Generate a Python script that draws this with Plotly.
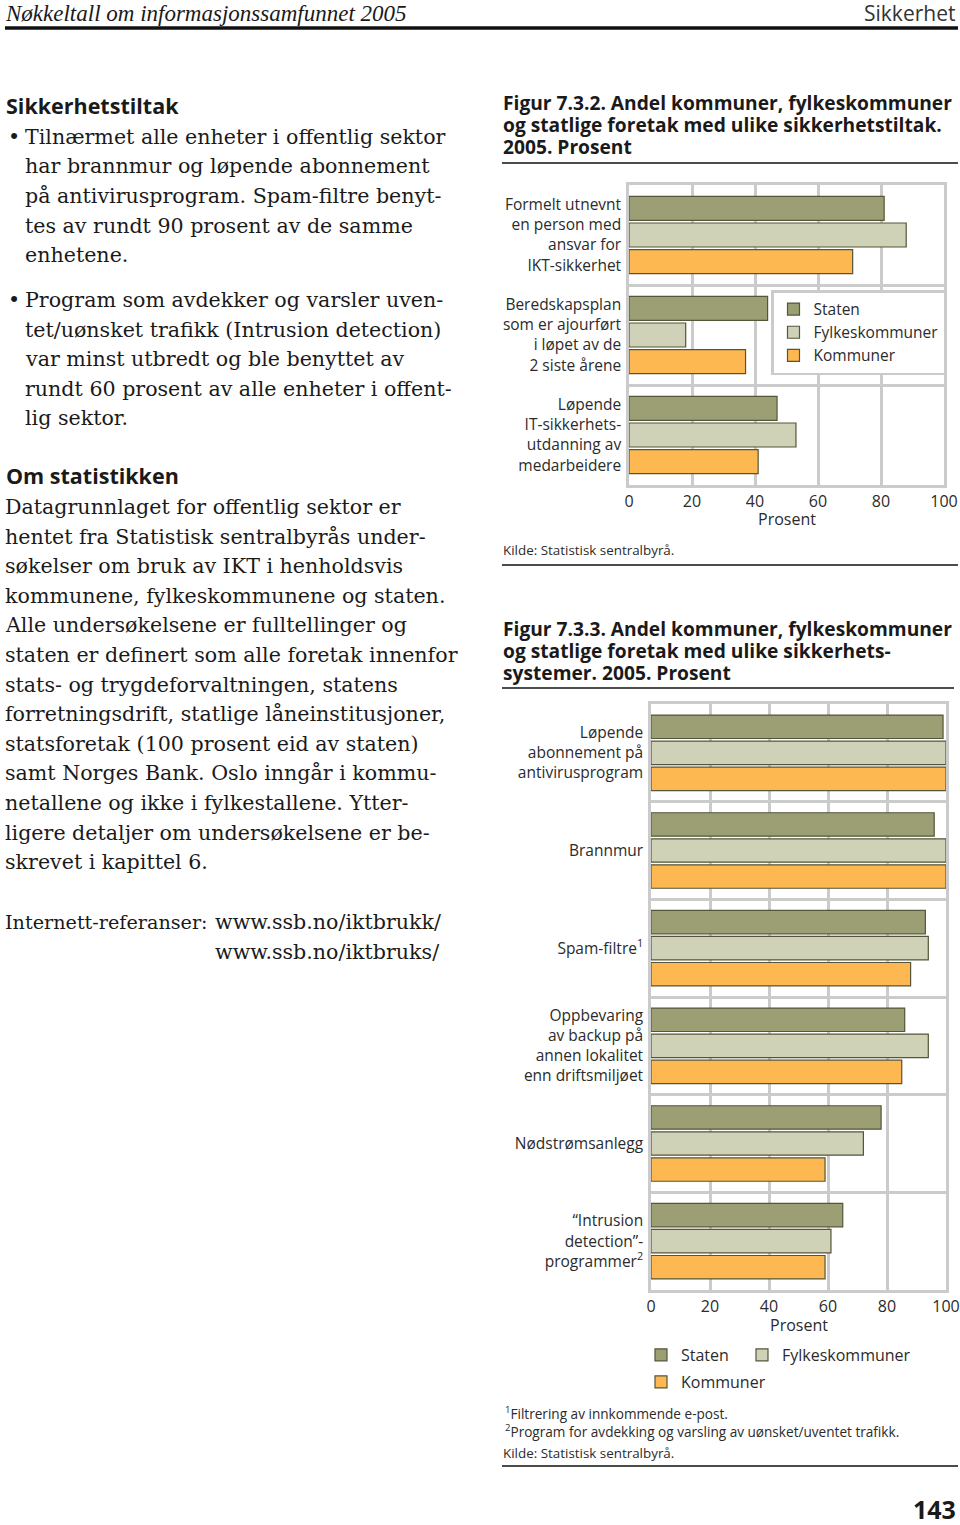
import plotly.graph_objects as go

W, H = 960, 1525

def P(x):
    return x / W

def Q(y):
    return 1 - y / H

# ---------------- data ----------------
series_names = ["Staten", "Fylkeskommuner", "Kommuner"]
series_colors = ["#9c9f73", "#cfd2b6", "#fdb852"]

cats_tiltak = [
    "Formelt utnevnt<br>en person med<br>ansvar for<br>IKT-sikkerhet",
    "Beredskapsplan<br>som er ajourført<br>i løpet av de<br>2 siste årene",
    "Løpende<br>IT-sikkerhets-<br>utdanning av<br>medarbeidere",
]
tiltak_staten = [81, 44, 47]
tiltak_fylkes = [88, 18, 53]
tiltak_kommuner = [71, 37, 41]

cats_system = [
    "Løpende<br>abonnement på<br>antivirusprogram",
    "Brannmur",
    "Spam-filtre<sup>1</sup>",
    "Oppbevaring<br>av backup på<br>annen lokalitet<br>enn driftsmiljøet",
    "Nødstrømsanlegg",
    "“Intrusion<br>detection”-<br>programmer<sup>2</sup>",
]
system_staten = [99, 96, 93, 86, 78, 65]
system_fylkes = [100, 100, 94, 94, 72, 61]
system_kommuner = [100, 100, 88, 85, 59, 59]

x_ticks = [0, 20, 40, 60, 80, 100]
x_title = "Prosent"

# ---------------- figure ----------------
fig = go.Figure()

SANS = "Open Sans"
SERIF = "DejaVu Serif"
GRID = "#cbcbcb"
TXT = "#2b2b2b"
BODY = 20.6

for name, col, vals in zip(series_names, series_colors,
                           [tiltak_staten, tiltak_fylkes, tiltak_kommuner]):
    fig.add_trace(go.Bar(
        x=vals, y=cats_tiltak, orientation="h", name=name,
        marker=dict(color=col, line=dict(color="#55553a", width=1.2)),
        xaxis="x", yaxis="y", legend="legend", showlegend=True,
        hoverinfo="skip"))

legend_map = {"Staten": "legend2", "Fylkeskommuner": "legend3", "Kommuner": "legend4"}
for name, col, vals in zip(series_names, series_colors,
                           [system_staten, system_fylkes, system_kommuner]):
    fig.add_trace(go.Bar(
        x=vals, y=cats_system, orientation="h", name=name,
        marker=dict(color=col, line=dict(color="#55553a", width=1.2)),
        xaxis="x2", yaxis="y2", legend=legend_map[name], showlegend=True,
        hoverinfo="skip"))

axis_common_x = dict(
    range=[0, 100], tickvals=x_ticks, showgrid=True, gridcolor=GRID, gridwidth=2.5,
    showline=True, linecolor=GRID, linewidth=2.5, mirror=True, zeroline=False,
    ticks="", tickfont=dict(family=SANS, size=16, color=TXT),
    fixedrange=True,
)
axis_common_y = dict(
    type="category", autorange="reversed", tickson="boundaries",
    showgrid=True, gridcolor=GRID, gridwidth=2.5,
    showline=True, linecolor=GRID, linewidth=2.5, mirror=True,
    ticks="", ticklabelstandoff=2,
    tickfont=dict(family=SANS, size=15.5, color=TXT), fixedrange=True,
)

leg_small = dict(orientation="h", bgcolor="rgba(0,0,0,0)", xanchor="left",
                 yanchor="top", font=dict(family=SANS, size=16, color=TXT),
                 itemwidth=30)

fig.update_layout(
    width=W, height=H, margin=dict(l=0, r=0, t=0, b=0, autoexpand=False),
    paper_bgcolor="white", plot_bgcolor="white",
    barmode="group", bargap=0.2, bargroupgap=0.1,
    xaxis=dict(domain=[P(629), P(944)], anchor="y", **axis_common_x),
    yaxis=dict(domain=[Q(485), Q(185)], anchor="x", **axis_common_y),
    xaxis2=dict(domain=[P(651), P(946)], anchor="y2", **axis_common_x),
    yaxis2=dict(domain=[Q(1290), Q(704)], anchor="x2", **axis_common_y),
    legend=dict(x=P(771), y=Q(290), xanchor="left", yanchor="top",
                bgcolor="white", bordercolor=GRID, borderwidth=2.5,
                font=dict(family=SANS, size=15.5, color=TXT), itemwidth=30,
                traceorder="normal"),
    legend2=dict(x=P(641), y=Q(1338), **leg_small),
    legend3=dict(x=P(742), y=Q(1338), **leg_small),
    legend4=dict(x=P(641), y=Q(1365), **leg_small),
    showlegend=True,
)

ann = []

def txt(x, y, s, size, family=SANS, color="#1a1a1a", anchor="left", bold=False,
        italic=False, xref="paper"):
    if bold:
        s = "<b>" + s + "</b>"
    if italic:
        s = "<i>" + s + "</i>"
    ann.append(dict(x=(P(x) if xref == "paper" else x), y=Q(y), xref=xref,
                    yref="paper", text=s, borderpad=0,
                    showarrow=False, xanchor=anchor, yanchor="middle",
                    font=dict(family=family, size=size, color=color)))

# axis titles ("Prosent") under each chart
txt(0.5, 519, x_title, 16, color=TXT, anchor="center", xref="x domain")
txt(0.5, 1325, x_title, 16, color=TXT, anchor="center", xref="x2 domain")

# header
txt(4, 13, "Nøkkeltall om informasjonssamfunnet 2005", 23,
    family="Liberation Serif", italic=True)
txt(956, 13, "Sikkerhet", 21, family=SANS, anchor="right", color="#333")

# left column
txt(5, 105, "Sikkerhetstiltak", 21.5, family=SANS, bold=True)
bullets1 = ["Tilnærmet alle enheter i offentlig sektor",
            "har brannmur og løpende abonnement",
            "på antivirusprogram. Spam-filtre benyt-",
            "tes av rundt 90 prosent av de samme",
            "enhetene."]
bullets2 = ["Program som avdekker og varsler uven-",
            "tet/uønsket trafikk (Intrusion detection)",
            "var minst utbredt og ble benyttet av",
            "rundt 60 prosent av alle enheter i offent-",
            "lig sektor."]
ys1 = [137, 166, 196, 226, 255]
ys2 = [300, 330, 359, 389, 418]
txt(7, 137, "•", BODY, family=SERIF)
txt(7, 300, "•", BODY, family=SERIF)
for s, y in zip(bullets1, ys1):
    txt(24, y, s, BODY, family=SERIF)
for s, y in zip(bullets2, ys2):
    txt(24, y, s, BODY, family=SERIF)

txt(5, 475, "Om statistikken", 21.5, family=SANS, bold=True)
body = ["Datagrunnlaget for offentlig sektor er",
        "hentet fra Statistisk sentralbyrås under-",
        "søkelser om bruk av IKT i henholdsvis",
        "kommunene, fylkeskommunene og staten.",
        "Alle undersøkelsene er fulltellinger og",
        "staten er definert som alle foretak innenfor",
        "stats- og trygdeforvaltningen, statens",
        "forretningsdrift, statlige låneinstitusjoner,",
        "statsforetak (100 prosent eid av staten)",
        "samt Norges Bank. Oslo inngår i kommu-",
        "netallene og ikke i fylkestallene. Ytter-",
        "ligere detaljer om undersøkelsene er be-",
        "skrevet i kapittel 6."]
y0 = 507
for i, s in enumerate(body):
    txt(4, y0 + i * 29.6, s, BODY, family=SERIF)
txt(4, 922, "Internett-referanser:", 19.2, family=SERIF)
txt(214, 922, "www.ssb.no/iktbrukk/", BODY, family=SERIF)
txt(214, 952, "www.ssb.no/iktbruks/", BODY, family=SERIF)

# right column: figure 7.3.2
TS = 19.2
txt(502, 102, "Figur 7.3.2. Andel kommuner, fylkeskommuner", TS, bold=True)
txt(502, 125, "og statlige foretak med ulike sikkerhetstiltak.", TS, bold=True)
txt(502, 147, "2005. Prosent", TS, bold=True)
txt(502, 550, "Kilde: Statistisk sentralbyrå.", 13.4, color=TXT)

# figure 7.3.3
txt(502, 628, "Figur 7.3.3. Andel kommuner, fylkeskommuner", TS, bold=True)
txt(502, 650, "og statlige foretak med ulike sikkerhets-", TS, bold=True)
txt(502, 672, "systemer. 2005. Prosent", TS, bold=True)
txt(504, 1413, "<sup>1</sup>Filtrering av innkommende e-post.", 13.6, color=TXT)
txt(504, 1431, "<sup>2</sup>Program for avdekking og varsling av uønsket/uventet trafikk.", 13.6, color=TXT)
txt(502, 1453, "Kilde: Statistisk sentralbyrå.", 13.4, color=TXT)

txt(957, 1509, "143", 25, bold=True, anchor="right")

fig.update_layout(annotations=ann)

shapes = []
def hline(x0, x1, y, w, color="#111"):
    shapes.append(dict(type="line", xref="paper", yref="paper",
                       x0=P(x0), x1=P(x1), y0=Q(y), y1=Q(y),
                       line=dict(color=color, width=w)))
hline(5, 958, 28, 3.5)
hline(502, 958, 163, 1.3)
hline(502, 958, 565, 1.3)
hline(502, 954, 688, 1.3)
hline(502, 958, 1466, 1.3)
fig.update_layout(shapes=shapes)

fig.write_html("out.html")
